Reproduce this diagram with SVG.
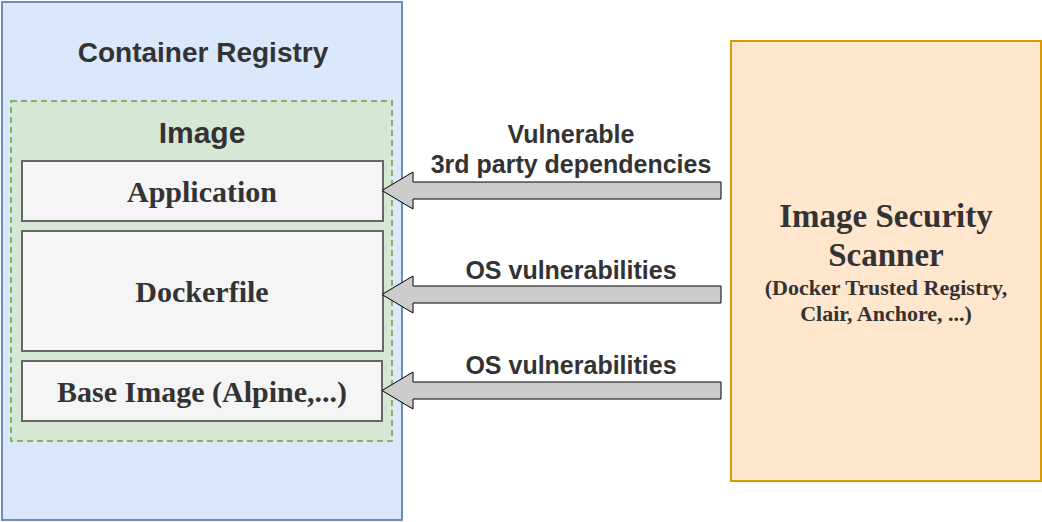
<svg xmlns="http://www.w3.org/2000/svg" width="1042" height="522" viewBox="0 0 1042 522">
<style>
.sans{font-family:"Liberation Sans",Arial,sans-serif;font-weight:bold;fill:#333;text-anchor:middle}
.serif{font-family:"Liberation Serif","Times New Roman",serif;font-weight:bold;fill:#333;text-anchor:middle}
.layer{fill:#f5f5f5;stroke:#666;stroke-width:2}
.arrow{fill:#cccccc;stroke:#000;stroke-width:1}
</style>
<rect width="1042" height="522" fill="#fff"/>
<g id="registry">
<rect x="2" y="2" width="400" height="518" fill="#dae8fc" stroke="#6c8ebf" stroke-width="2"/>
<text class="sans" x="203" y="62" font-size="28">Container Registry</text>
</g>
<g id="image">
<rect x="11" y="101" width="381" height="340" fill="#d5e8d4" stroke="#82b366" stroke-width="2" stroke-dasharray="6 4"/>
<text class="sans" x="202" y="143" font-size="30">Image</text>
</g>
<g id="application">
<rect class="layer" x="22" y="161" width="361" height="60"/>
<text class="serif" x="202" y="202" font-size="30">Application</text>
</g>
<g id="dockerfile">
<rect class="layer" x="22" y="231" width="361" height="120"/>
<text class="serif" x="202" y="302" font-size="30">Dockerfile</text>
</g>
<g id="base-image">
<rect class="layer" x="22" y="361" width="360" height="60"/>
<text class="serif" x="202" y="402" font-size="30">Base Image (Alpine,...)</text>
</g>
<g id="scanner">
<rect x="731" y="41" width="310" height="440" fill="#ffe6cc" stroke="#d79b00" stroke-width="2"/>
<text class="serif" x="886" y="227" font-size="33">Image Security</text>
<text class="serif" x="886" y="266" font-size="33">Scanner</text>
<text class="serif" x="886" y="295" font-size="22">(Docker Trusted Registry,</text>
<text class="serif" x="886" y="321" font-size="22">Clair, Anchore, ...)</text>
</g>
<g id="connectors">
<path class="arrow" d="M721,182 L413,182 L413,172 L382,190.5 L413,209 L413,199 L721,199 Z"/>
<path class="arrow" d="M721,286 L413,286 L413,276 L382,294.5 L413,313 L413,303 L721,303 Z"/>
<path class="arrow" d="M721,382 L413,382 L413,372 L382,390.5 L413,409 L413,399 L721,399 Z"/>
<text class="sans" x="571" y="143" font-size="25">Vulnerable</text>
<text class="sans" x="571" y="173" font-size="25">3rd party dependencies</text>
<text class="sans" x="571" y="279" font-size="25">OS vulnerabilities</text>
<text class="sans" x="571" y="374" font-size="25">OS vulnerabilities</text>
</g>
</svg>
